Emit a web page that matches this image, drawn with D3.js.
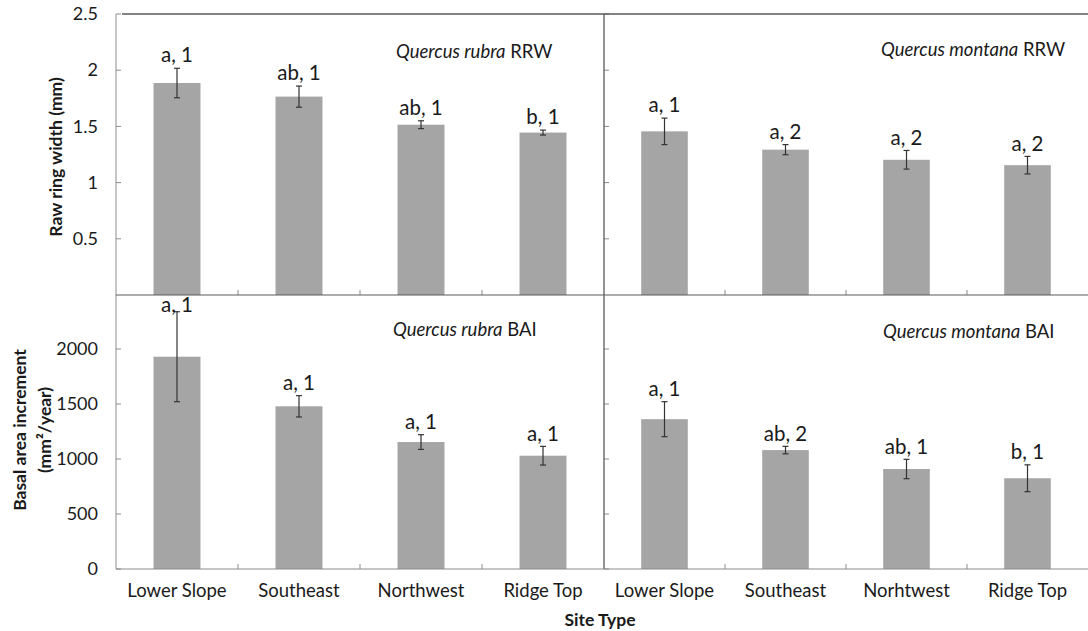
<!DOCTYPE html>
<html>
<head>
<meta charset="utf-8">
<script src="https://cdn.jsdelivr.net/npm/d3@7"></script>
<style>
  html, body { margin: 0; padding: 0; background: #fff; }
  svg { display: block; font-family: Lato, "Open Sans", sans-serif; }
</style>
</head>
<body>
<svg id="chart" width="1088" height="631"></svg>
<script>
// Site categories (the Q. montana panel keeps its own spelling)
const sitesRubra = ["Lower Slope", "Southeast", "Northwest", "Ridge Top"];
const sitesMontana = ["Lower Slope", "Southeast", "Norhtwest", "Ridge Top"];

// Raw ring width (mm): means and standard errors
const rubraRRW = [1.886, 1.765, 1.515, 1.445];
const rubraRRWErr = [0.131, 0.094, 0.035, 0.022];
const montanaRRW = [1.456, 1.293, 1.203, 1.155];
const montanaRRWErr = [0.118, 0.045, 0.083, 0.078];

// Basal area increment (mm²/year): means and standard errors
const rubraBAI = [1930, 1479, 1154, 1030];
const rubraBAIErr = [409, 97, 67, 85];
const montanaBAI = [1362, 1081, 909, 825];
const montanaBAIErr = [159, 34, 88, 122];

// Significance letters
const rubraRRWSig = ["a, 1", "ab, 1", "ab, 1", "b, 1"];
const montanaRRWSig = ["a, 1", "a, 2", "a, 2", "a, 2"];
const rubraBAISig = ["a, 1", "a, 1", "a, 1", "a, 1"];
const montanaBAISig = ["a, 1", "ab, 2", "ab, 1", "b, 1"];

// Axis ticks
const rrwTicks = [0.5, 1, 1.5, 2, 2.5];
const baiTicks = [0, 500, 1000, 1500, 2000];

const svg = d3.select("#chart");

const colX = [[116, 604], [604, 1088]];
const rowY = [{ range: [295, 14], domain: [0, 2.5], ticks: rrwTicks, fmt: d3.format("") },
              { range: [569, 294], domain: [0, 2500], ticks: baiTicks, fmt: d3.format("") }];

const panels = [
  { row: 0, col: 0, sites: sitesRubra, vals: rubraRRW, err: rubraRRWErr, sig: rubraRRWSig,
    species: "Quercus rubra", metric: " RRW", tx: 396, ty: 58 },
  { row: 0, col: 1, sites: sitesMontana, vals: montanaRRW, err: montanaRRWErr, sig: montanaRRWSig,
    species: "Quercus montana", metric: " RRW", tx: 881, ty: 56 },
  { row: 1, col: 0, sites: sitesRubra, vals: rubraBAI, err: rubraBAIErr, sig: rubraBAISig,
    species: "Quercus rubra", metric: " BAI", tx: 393, ty: 336 },
  { row: 1, col: 1, sites: sitesMontana, vals: montanaBAI, err: montanaBAIErr, sig: montanaBAISig,
    species: "Quercus montana", metric: " BAI", tx: 883, ty: 338 }
];

const barColor = "#a5a5a5";
const axisColor = "#8c8c8c";
const darkLine = "#5a5a5a";
const textColor = "#1a1a1a";

panels.forEach(p => {
  const r = rowY[p.row];
  const x = d3.scaleBand().domain(p.sites).range(colX[p.col])
    .paddingInner(0.615).paddingOuter(0.3075);
  const y = d3.scaleLinear().domain(r.domain).range(r.range);
  const g = svg.append("g");

  // bars
  g.selectAll("rect.bar").data(p.vals).join("rect")
    .attr("class", "bar")
    .attr("x", (d, i) => x(p.sites[i]))
    .attr("width", x.bandwidth())
    .attr("y", d => y(d))
    .attr("height", d => y(0) - y(d))
    .attr("fill", barColor);

  // error bars
  const eg = g.selectAll("g.err").data(p.vals).join("g").attr("class", "err")
    .attr("stroke", "#333").attr("stroke-width", 1.2);
  eg.each(function (d, i) {
    const cx = x(p.sites[i]) + x.bandwidth() / 2;
    const hi = y(d + p.err[i]), lo = y(d - p.err[i]);
    const s = d3.select(this);
    s.append("line").attr("x1", cx).attr("x2", cx).attr("y1", hi).attr("y2", lo);
    s.append("line").attr("x1", cx - 3).attr("x2", cx + 3).attr("y1", hi).attr("y2", hi);
    s.append("line").attr("x1", cx - 3).attr("x2", cx + 3).attr("y1", lo).attr("y2", lo);
  });

  // significance labels above the error bars
  g.selectAll("text.sig").data(p.vals).join("text")
    .attr("class", "sig")
    .attr("x", (d, i) => x(p.sites[i]) + x.bandwidth() / 2)
    .attr("y", (d, i) => Math.max(y(d + p.err[i]) - 13, r.range[1] + 11))
    .attr("dy", "0.35em")
    .attr("text-anchor", "middle")
    .attr("font-size", 20.5)
    .attr("fill", textColor)
    .text((d, i) => p.sig[i]);

  // category separators along the baseline
  const step = x.step();
  const bounds = d3.range(1, p.sites.length).map(k => colX[p.col][0] + k * step);
  g.selectAll("line.sep").data(bounds).join("line")
    .attr("x1", d => d).attr("x2", d => d)
    .attr("y1", y(0)).attr("y2", y(0) - 5)
    .attr("stroke", axisColor).attr("stroke-width", 1);

  // y tick marks (labels only on the left column)
  g.selectAll("line.yt").data(r.ticks).join("line")
    .attr("x1", colX[p.col][0]).attr("x2", colX[p.col][0] + 5)
    .attr("y1", d => y(d)).attr("y2", d => y(d))
    .attr("stroke", axisColor).attr("stroke-width", 1);

  if (p.col === 0) {
    const ax = d3.axisLeft(y).tickValues(r.ticks).tickFormat(r.fmt).tickSize(0).tickPadding(18);
    const ag = g.append("g").attr("transform", `translate(${colX[0][0]},0)`).call(ax);
    ag.select(".domain").remove();
    ag.selectAll("text").attr("font-size", 18).attr("fill", textColor)
      .attr("font-family", "Lato, sans-serif");
  }

  // x tick labels on the bottom row
  if (p.row === 1) {
    const ax = d3.axisBottom(x).tickSize(0).tickPadding(15);
    const ag = g.append("g").attr("transform", `translate(0,${y(0)})`).call(ax);
    ag.select(".domain").remove();
    ag.selectAll("text").attr("font-size", 18.5).attr("fill", textColor)
      .attr("font-family", "Lato, sans-serif");
  }

  // panel title
  const t = g.append("text").attr("x", p.tx).attr("y", p.ty)
    .attr("font-size", 18.5).attr("fill", textColor);
  t.append("tspan").attr("font-style", "italic").text(p.species);
  t.append("tspan").text(p.metric);
});

// frame lines
const frame = svg.append("g").attr("fill", "none");
frame.append("line").attr("x1", 116).attr("x2", 116).attr("y1", 14).attr("y2", 569)
  .attr("stroke", axisColor);
frame.append("line").attr("x1", 122).attr("x2", 1088).attr("y1", 14).attr("y2", 14)
  .attr("stroke", darkLine).attr("stroke-width", 1.3);
frame.append("line").attr("x1", 604).attr("x2", 604).attr("y1", 14).attr("y2", 569)
  .attr("stroke", darkLine).attr("stroke-width", 1.3);
frame.append("line").attr("x1", 116).attr("x2", 1088).attr("y1", 295).attr("y2", 295)
  .attr("stroke", darkLine).attr("stroke-width", 1.2);
frame.append("line").attr("x1", 116).attr("x2", 1088).attr("y1", 569).attr("y2", 569)
  .attr("stroke", axisColor).attr("stroke-width", 1.2);

// axis titles
svg.append("text")
  .attr("transform", "translate(56,157) rotate(-90)")
  .attr("text-anchor", "middle").attr("dy", "0.35em")
  .attr("font-size", 17.5).attr("font-weight", "bold").attr("fill", textColor)
  .text("Raw ring width (mm)");

const baiTitle = svg.append("text")
  .attr("transform", "translate(32,430) rotate(-90)")
  .attr("text-anchor", "middle")
  .attr("font-size", 17.5).attr("font-weight", "bold").attr("fill", textColor);
baiTitle.append("tspan").attr("x", 0).attr("y", -6).text("Basal area increment");
baiTitle.append("tspan").attr("x", 0).attr("y", 19).text("(mm²/year)");

svg.append("text")
  .attr("x", 600).attr("y", 620).attr("dy", "0.35em")
  .attr("text-anchor", "middle")
  .attr("font-size", 17.5).attr("font-weight", "bold").attr("fill", textColor)
  .text("Site Type");
</script>
</body>
</html>
